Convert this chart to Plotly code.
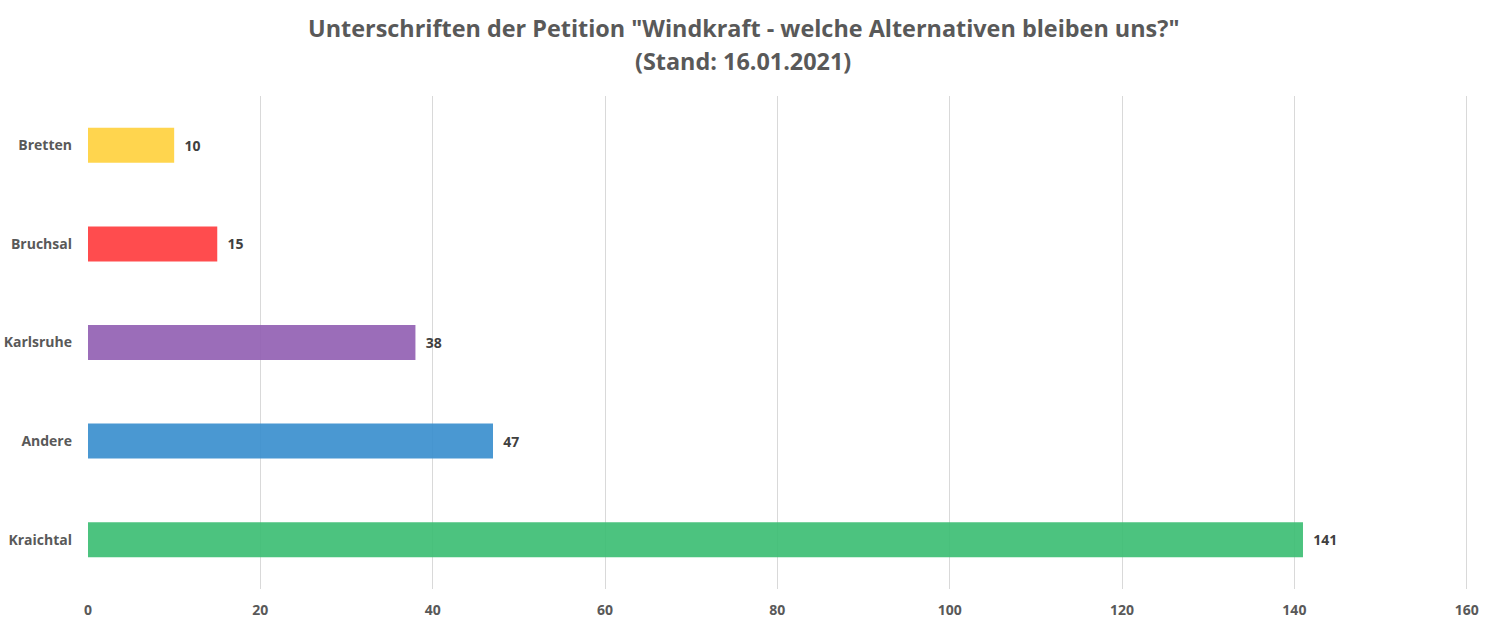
import plotly.graph_objects as go

categories = ["Bretten", "Bruchsal", "Karlsruhe", "Andere", "Kraichtal"]
values = [10, 15, 38, 47, 141]
colors = ["rgba(255,208,59,0.9)", "rgba(255,57,59,0.9)", "rgba(144,93,177,0.9)",
          "rgba(54,141,205,0.9)", "rgba(56,189,113,0.9)"]
x_ticks = [0, 20, 40, 60, 80, 100, 120, 140, 160]
x_range = [0, 160.15]
title_lines = ['Unterschriften der Petition "Windkraft - welche Alternativen bleiben uns?"',
               "(Stand: 16.01.2021)"]

font_family = "Open Sans, Noto Sans, sans-serif"

W, H = 1486, 632
ML, MR, MT, MB = 88, 18, 96, 43
plot_w = W - ML - MR
plot_h = H - MT - MB

fig = go.Figure(go.Bar(
    y=categories, x=values, orientation="h",
    marker=dict(color=colors, line=dict(width=0)),
    text=[f"  {v}" for v in values], textposition="outside",
    textfont=dict(family=font_family, size=14, color="#404040", weight="bold"),
    cliponaxis=False,
))

title_centers_px = [28, 61]
annotations = []
for line, cy in zip(title_lines, title_centers_px):
    annotations.append(dict(
        text=line, showarrow=False,
        xref="paper", yref="paper",
        x=(W / 2 - ML) / plot_w, xanchor="center",
        y=(H - MB - cy) / plot_h, yanchor="middle",
        font=dict(family=font_family, size=23.4, color="#595959", weight="bold"),
    ))

fig.update_layout(
    width=W, height=H,
    paper_bgcolor="white", plot_bgcolor="white",
    margin=dict(l=ML, r=MR, t=MT, b=MB, autoexpand=False),
    bargap=0.645,
    showlegend=False,
    annotations=annotations,
    xaxis=dict(
        range=x_range, tickvals=x_ticks, showgrid=True, gridcolor="#d9d9d9", gridwidth=1,
        zeroline=False, showline=False, automargin=False, ticklabeloverflow="allow",
        tickfont=dict(family=font_family, size=14, color="#595959", weight="bold"),
        ticklabelstandoff=11,
    ),
    yaxis=dict(
        autorange="reversed", showgrid=False, zeroline=False, showline=False, automargin=False,
        tickfont=dict(family=font_family, size=14, color="#595959", weight="bold"),
        ticklabelstandoff=15,
    ),
)

# remove the browser's default 8px body margin so the figure fills the window exactly
fig.write_html("out.html", config={"displayModeBar": False},
               post_script="document.body.style.margin='0';")
